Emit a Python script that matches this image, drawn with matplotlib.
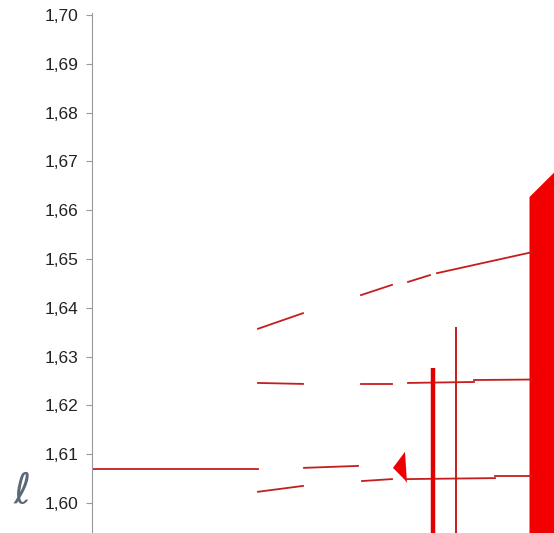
import matplotlib.pyplot as plt
from matplotlib.ticker import FuncFormatter

# parameter axis is unlabeled in the source; values are in arbitrary parameter units
x_left_branch = [0, 166]
y_left_branch = [1.6070, 1.6070]

# lower branch (period-doubled), segments separated by windows
x_low = [[166, 211], [212, 266], [270, 300], [315, 403], [403, 440]]
y_low = [[1.6023, 1.6035], [1.6072, 1.6076], [1.6045, 1.6049], [1.6049, 1.6051], [1.6055, 1.6055]]

# middle branch
x_mid = [[166, 211], [269, 300], [316, 382], [382, 440]]
y_mid = [[1.6246, 1.6244], [1.6244, 1.6244], [1.6246, 1.6248], [1.6252, 1.6253]]

# upper branch
x_up = [[166, 211], [269, 300], [316, 338], [345, 440]]
y_up = [[1.6357, 1.6389], [1.6426, 1.6447], [1.6453, 1.6467], [1.6471, 1.6514]]

# wedge near the lower branch
x_wedge = [301, 313, 315, 313, 301]
y_wedge = [1.6072, 1.6105, 1.6041, 1.6047, 1.6072]

# vertical lines (crisis points)
x_thick, y_thick_top = 341, 1.6277
x_thin, y_thin_top = 364, 1.6361

# chaotic band
x_band = [437, 465]
y_band_top = [1.6628, 1.6685]

fig = plt.figure(figsize=(5.54, 5.33), dpi=100)
ax = fig.add_axes([92 / 554, 0.0, 1 - 92 / 554, (533 - 15) / 533])
ax.set_xlim(0, 462)
y_bottom = 1.60 - 30 / 4880
ax.set_ylim(y_bottom, 1.70)

red = '#c41e1e'
lw = 1.3
ax.plot(x_left_branch, y_left_branch, color=red, lw=lw)
for xs, ys in zip(x_low, y_low):
    ax.plot(xs, ys, color=red, lw=lw)
for xs, ys in zip(x_mid, y_mid):
    ax.plot(xs, ys, color=red, lw=lw)
for xs, ys in zip(x_up, y_up):
    ax.plot(xs, ys, color=red, lw=lw)
ax.fill(x_wedge, y_wedge, color='#ee0000', lw=0)

ax.plot([x_thick, x_thick], [y_bottom, y_thick_top], color='#e00000', lw=3.2,
        solid_capstyle='butt')
ax.plot([x_thin, x_thin], [y_bottom, y_thin_top], color=red, lw=1.4,
        solid_capstyle='butt')

ax.fill_between(x_band + [480], [y_bottom] * 3, y_band_top + [1.672],
                color='#f20000', lw=0)

for s in ['top', 'right', 'bottom']:
    ax.spines[s].set_visible(False)
ax.spines['left'].set_color('#999999')
ax.spines['left'].set_bounds(y_bottom, 1.7005)
ax.set_xticks([])
ax.set_yticks([1.60 + i * 0.01 for i in range(11)])
ax.yaxis.set_major_formatter(FuncFormatter(lambda v, p: f'{v:.2f}'.replace('.', ',')))
ax.tick_params(axis='y', length=4, color='#999999', labelsize=12.5,
               labelcolor='#222222', pad=6)
for lab in ax.get_yticklabels():
    lab.set_family('Liberation Sans')

fig.text(22 / 554, 1 - 491 / 533, r'$\ell$', fontsize=30, color='#5a6878',
         ha='center', va='center')

fig.savefig('out.png', dpi=100)
